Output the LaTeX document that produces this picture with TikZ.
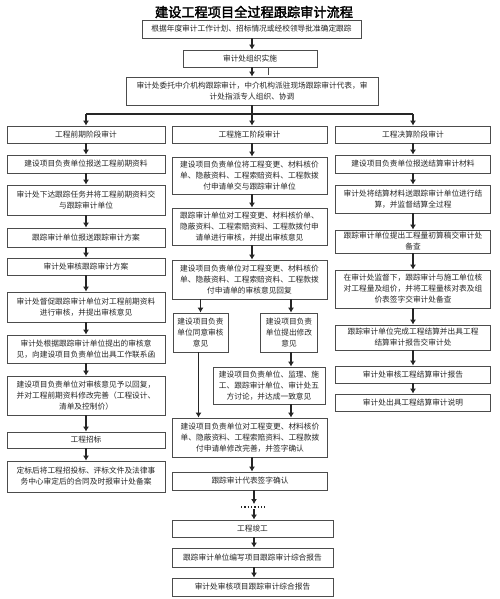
\documentclass[tikz,border=0pt]{standalone}
\usepackage{fontspec}
\setmainfont{Noto Sans CJK SC}
\newfontfamily\titlefont[FakeBold=2.5]{Noto Sans CJK SC}
\usepackage{tikz}
\usetikzlibrary{arrows.meta}
\tikzset{>={Latex[length=5pt,width=6pt]}}

\begin{document}
\begin{tikzpicture}[x=1pt,y=-1pt,
    box/.style={draw=black!70,line width=0.8pt,fill=white,align=center,inner sep=1pt,
      text=black!85,font=\fontsize{7.7}{11}\selectfont},
    lbox/.style={box,minimum width=158pt},
    mbox/.style={box,minimum width=155pt},
    rbox/.style={box,minimum width=155pt},
    arr/.style={->,line width=1.8pt,black!85},
    link/.style={line width=1.8pt,black!85}]
    \useasboundingbox (0,0) rectangle (500,599);
    \node[font=\titlefont\fontsize{13.2}{15}\selectfont] (title) at (254,12) {建设工程项目全过程跟踪审计流程};
    % top part
    \node[box,minimum width=219pt,minimum height=18pt] (plan) at (251.5,29) {根据年度审计工作计划、招标情况或经校领导批准确定跟踪};
    \node[box,minimum width=134pt,minimum height=17pt] (org) at (250,58.5) {审计处组织实施};
    \node[box,minimum width=252pt,minimum height=28pt] (agent) at (252,91) {审计处委托中介机构跟踪审计，中介机构派驻现场跟踪审计代表，审\\计处指派专人组织、协调};
    \draw[arr] (plan.south -| agent) -- (org.north -| agent);
    \draw[arr] (org.south -| agent) -- (agent);
    \coordinate (stub) at (268,75);
    \draw[black!70,line width=0.6pt] (stub |- org.south) -- (stub);
    % left column
    \node[lbox,minimum height=17pt] (L1) at (86,134.5) {工程前期阶段审计};
    \node[lbox,minimum height=18pt] (L2) at (86,164) {建设项目负责单位报送工程前期资料};
    \node[lbox,minimum height=30pt] (L3) at (86,200) {审计处下达跟踪任务并将工程前期资料交\\与跟踪审计单位};
    \node[lbox,minimum height=19pt] (L4) at (86,237.5) {跟踪审计单位报送跟踪审计方案};
    \node[lbox,minimum height=17pt] (L5) at (86,266.5) {审计处审核跟踪审计方案};
    \node[lbox,minimum height=30pt] (L6) at (86,307) {审计处督促跟踪审计单位对工程前期资料\\进行审核，并提出审核意见};
    \node[lbox,minimum height=28pt] (L7) at (86,349) {审计处根据跟踪审计单位提出的审核意\\见，向建设项目负责单位出具工作联系函};
    \node[lbox,minimum height=39pt] (L8) at (86,395.5) {建设项目负责单位对审核意见予以回复，\\并对工程前期资料修改完善（工程设计、\\清单及控制价）};
    \node[lbox,minimum height=16pt] (L9) at (86,440) {工程招标};
    \node[lbox,minimum height=31pt] (L10) at (86,476.5) {定标后将工程招投标、评标文件及法律事\\务中心审定后的合同及时报审计处备案};
    % middle column
    \node[mbox,minimum height=17pt] (M1) at (249.5,134.5) {工程施工阶段审计};
    \node[mbox,minimum height=37pt] (M2) at (249.5,175.5) {建设项目负责单位将工程变更、材料核价\\单、隐蔽资料、工程索赔资料、工程款拨\\付申请单交与跟踪审计单位};
    \node[mbox,minimum height=37pt] (M3) at (249.5,226.5) {跟踪审计单位对工程变更、材料核价单、\\隐蔽资料、工程索赔资料、工程款拨付申\\请单进行审核，并提出审核意见};
    \node[mbox,minimum height=39pt] (M4) at (249.5,279.5) {建设项目负责单位对工程变更、材料核价\\单、隐蔽资料、工程索赔资料、工程款拨\\付申请单的审核意见回复};
    \node[box,minimum width=55pt,minimum height=39pt] (agree) at (200.5,332.5) {建设项目负责\\单位同意审核\\意见};
    \node[box,minimum width=57pt,minimum height=39pt] (modify) at (289,332.5) {建设项目负责\\单位提出修改\\意见};
    \node[box,minimum width=112pt,minimum height=37pt] (talk) at (269,385.5) {建设项目负责单位、监理、施\\工、跟踪审计单位、审计处五\\方讨论，并达成一致意见};
    \node[mbox,minimum height=39pt] (M7) at (250,437.5) {建设项目负责单位对工程变更、材料核价\\单、隐蔽资料、工程索赔资料、工程款拨\\付申请单修改完善，并签字确认};
    \node[mbox,minimum height=18pt] (M8) at (250,481) {跟踪审计代表签字确认};
    \node[box,minimum width=161pt,minimum height=17pt] (M9) at (252.5,528.5) {工程竣工};
    \node[box,minimum width=161pt,minimum height=19pt] (M10) at (252.5,557.5) {跟踪审计单位编写项目跟踪审计综合报告};
    \node[box,minimum width=161pt,minimum height=18pt] (M11) at (252.5,587) {审计处审核项目跟踪审计综合报告};
    % right column
    \node[rbox,minimum height=17pt] (R1) at (413,134.5) {工程决算阶段审计};
    \node[rbox,minimum height=18pt] (R2) at (413,164) {建设项目负责单位报送结算审计材料};
    \node[rbox,minimum height=28pt] (R3) at (413,199) {审计处将结算材料送跟踪审计单位进行结\\算，并监督结算全过程};
    \node[rbox,minimum height=23pt] (R4) at (413,241.5) {跟踪审计单位提出工程量初算稿交审计处\\备查};
    \node[rbox,minimum height=38pt] (R5) at (413,289) {在审计处监督下，跟踪审计与施工单位核\\对工程量及组价，并将工程量核对表及组\\价表签字交审计处备查};
    \node[rbox,minimum height=25pt] (R6) at (413,337.5) {跟踪审计单位完成工程结算并出具工程\\结算审计报告交审计处};
    \node[rbox,minimum height=17pt] (R7) at (413,374.5) {审计处审核工程结算审计报告};
    \node[rbox,minimum height=17pt] (R8) at (413,402.5) {审计处出具工程结算审计说明};
    % fork into the three stages
    \coordinate (fork) at (252,114);
    \draw[link] (agent.south -| fork) -- (fork);
    \draw[link] (fork -| L1) -- (fork -| R1);
    \draw[arr] (fork -| L1) -- (L1);
    \draw[arr] (fork) -- (fork |- M1.north);
    \draw[arr] (fork -| R1) -- (R1);
    % arrows down the columns
    \foreach \a/\b in {L1/L2,L2/L3,L3/L4,L4/L5,L5/L6,L6/L7,L7/L8,L8/L9,L9/L10,
                       R1/R2,R2/R3,R3/R4,R4/R5,R5/R6,R6/R7,R7/R8} {
      \draw[arr] (\a) -- (\b);
    }
    \foreach \a/\b in {M1/M2,M2/M3,M3/M4} {
      \draw[arr] (\a.south -| fork) -- (\b.north -| fork);
    }
    \draw[arr] (M4.south -| agree) -- (agree);
    \draw[arr] ([xshift=2pt]M4.south -| modify) -- ([xshift=2pt]modify.north);
    \draw[arr] ([xshift=2pt]modify.south) -- ([xshift=2pt]modify.south |- talk.north);
    \draw[arr] ([xshift=2pt]talk.south -| modify) -- ([xshift=2pt]M7.north -| modify);
    \draw[arr] ([xshift=-2pt]agree.south) -- ([xshift=-2pt]agree.south |- M7.north);
    \draw[arr] (M7.south -| fork) -- (M8.north -| fork);
    % gap before completion
    \coordinate (gap) at (254,507);
    \draw[arr] (M8.south -| gap) -- ([yshift=3pt]gap);
    \draw[black!85,line width=1.3pt,dotted] ([xshift=-13pt]gap) -- ([xshift=13pt]gap);
    \draw[arr] ([yshift=-2pt]gap) -- (M9.north -| gap);
    \draw[arr] (M9.south -| gap) -- (M10.north -| gap);
    \draw[arr] (M10.south -| gap) -- (M11.north -| gap);
\end{tikzpicture}
\end{document}
